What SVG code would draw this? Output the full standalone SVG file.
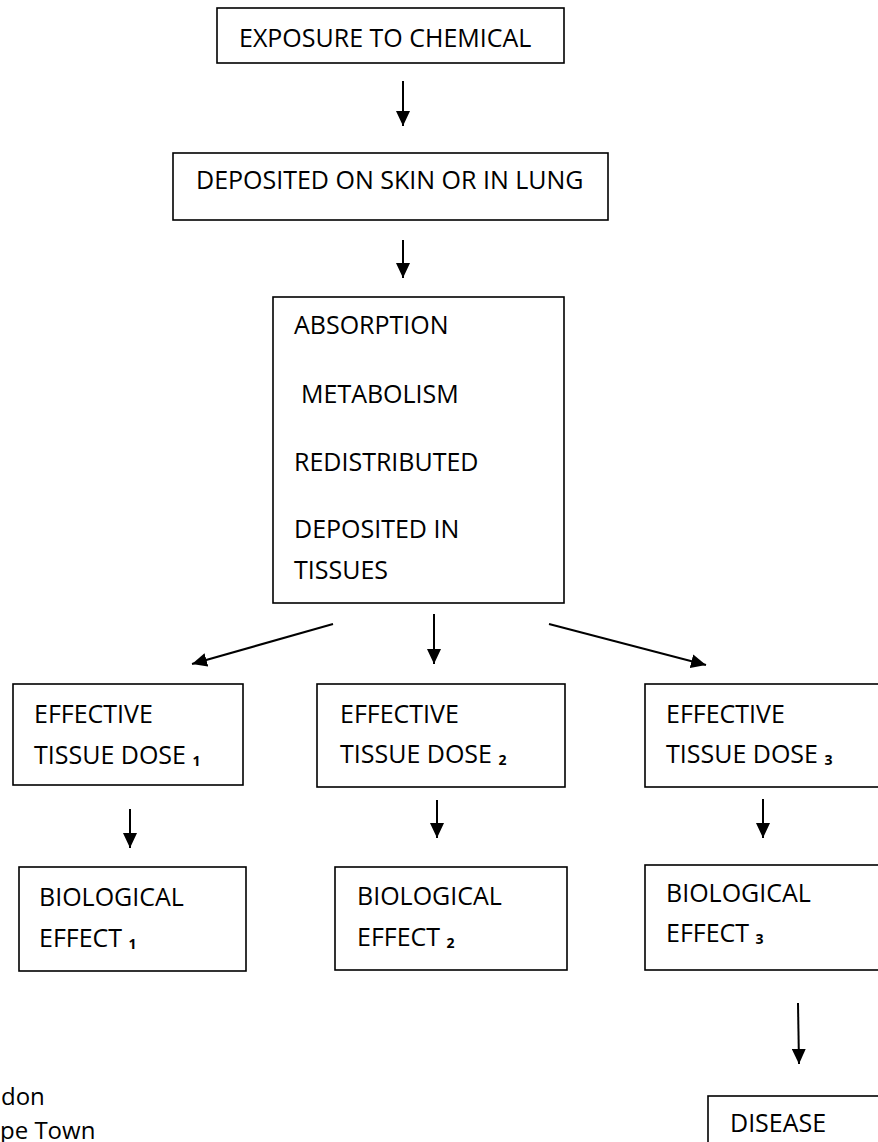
<svg xmlns="http://www.w3.org/2000/svg" width="878" height="1142" viewBox="0 0 878 1142">
<style>
.box{fill:#fff;stroke:#000;stroke-width:1.6}
.t{font-family:"Open Sans","Liberation Sans",sans-serif;font-size:25px;fill:#000}
.n{font-size:24px}
.sub{font-size:14px;font-weight:bold}
.c{stroke:#000;stroke-width:2;fill:none;marker-end:url(#ah)}
</style>
<defs>
<marker id="ah" viewBox="0 0 15 14" refX="15" refY="7" markerWidth="15" markerHeight="14" markerUnits="userSpaceOnUse" orient="auto">
<path d="M0,0 L15,7 L0,14 z" fill="#000"/>
</marker>
</defs>
<rect width="878" height="1142" fill="#fff"/>
<g id="n1"><rect class="box" x="217" y="8" width="347" height="55"/><text class="t" x="239" y="47">EXPOSURE TO CHEMICAL</text></g>
<g id="n2"><rect class="box" x="173" y="153" width="435" height="67"/><text class="t" x="196" y="189">DEPOSITED ON SKIN OR IN LUNG</text></g>
<g id="n3"><rect class="box" x="273" y="297" width="291" height="306"/>
<text class="t" x="294" y="334">ABSORPTION</text>
<text class="t" x="301" y="403">METABOLISM</text>
<text class="t" x="294" y="471">REDISTRIBUTED</text>
<text class="t" x="294" y="538">DEPOSITED IN</text>
<text class="t" x="294" y="579">TISSUES</text></g>
<g id="n4"><rect class="box" x="13" y="684" width="230" height="101"/><text class="t" x="34" y="723">EFFECTIVE</text><text class="t" x="34" y="764">TISSUE DOSE <tspan class="sub" dy="2">1</tspan></text></g>
<g id="n5"><rect class="box" x="317" y="684" width="248" height="103"/><text class="t" x="340" y="723">EFFECTIVE</text><text class="t" x="340" y="763">TISSUE DOSE <tspan class="sub" dy="2">2</tspan></text></g>
<g id="n6"><rect class="box" x="645" y="684" width="250" height="103"/><text class="t" x="666" y="723">EFFECTIVE</text><text class="t" x="666" y="763">TISSUE DOSE <tspan class="sub" dy="2">3</tspan></text></g>
<g id="n7"><rect class="box" x="19" y="867" width="227" height="104"/><text class="t" x="39" y="906">BIOLOGICAL</text><text class="t" x="39" y="947">EFFECT <tspan class="sub" dy="2">1</tspan></text></g>
<g id="n8"><rect class="box" x="335" y="867" width="232" height="103"/><text class="t" x="357" y="905">BIOLOGICAL</text><text class="t" x="357" y="946">EFFECT <tspan class="sub" dy="2">2</tspan></text></g>
<g id="n9"><rect class="box" x="645" y="865" width="250" height="105"/><text class="t" x="666" y="902">BIOLOGICAL</text><text class="t" x="666" y="942">EFFECT <tspan class="sub" dy="2">3</tspan></text></g>
<g id="n10"><rect class="box" x="708" y="1096" width="190" height="80"/><text class="t" x="730" y="1132">DISEASE</text></g>
<g id="notes"><text class="t n" x="1" y="1105">don</text><text class="t n" x="0" y="1139">pe Town</text></g>
<g id="connectors">
<line class="c" x1="403" y1="81" x2="403" y2="126"/>
<line class="c" x1="403" y1="240" x2="403" y2="278"/>
<line class="c" x1="333" y1="624" x2="192" y2="664"/>
<line class="c" x1="434" y1="614" x2="434" y2="664"/>
<line class="c" x1="549" y1="624" x2="706" y2="665"/>
<line class="c" x1="130" y1="809" x2="130" y2="848"/>
<line class="c" x1="437" y1="800" x2="437" y2="838"/>
<line class="c" x1="763" y1="799" x2="763" y2="838"/>
<line class="c" x1="798" y1="1003" x2="799" y2="1064"/>
</g>
</svg>
